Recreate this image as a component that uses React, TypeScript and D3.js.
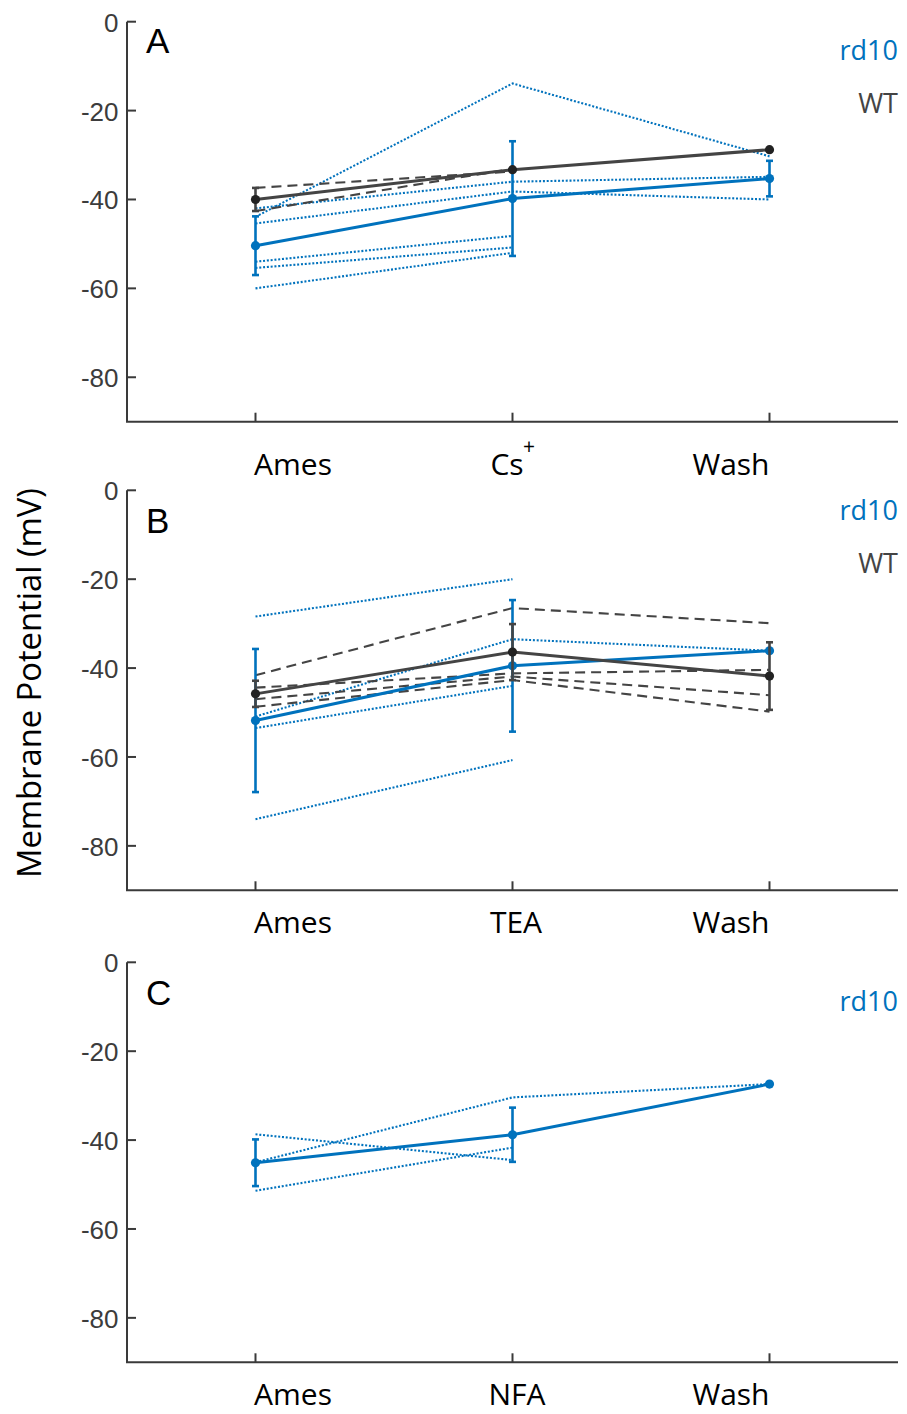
import React from "react";
import * as d3 from "d3";

type V = number | null;

// Shared axis settings
const yTicks = [0, -20, -40, -60, -80];
const yDomain: [number, number] = [-90, 0];

// Panel A: Cs+ block
const categoriesA = ["Ames", "Cs", "Wash"];
const rd10CellsA: V[][] = [
  [-43.9, -13.9, -30.3],
  [-42.0, -36.0, -34.9],
  [-45.4, -38.2, -40.0],
  [-54.0, -48.2, null],
  [-55.4, -50.8, null],
  [-60.0, -52.0, null],
];
const rd10MeanA: V[] = [-50.4, -39.8, -35.3];
const rd10ErrA: V[] = [6.6, 12.9, 4.0];
const wtCellsA: V[][] = [
  [-37.4, -33.7, null],
  [-42.6, -33.1, null],
];
const wtMeanA: V[] = [-40.0, -33.3, -28.8];
const wtErrA: V[] = [2.6, null, null];

// Panel B: TEA block
const categoriesB = ["Ames", "TEA", "Wash"];
const rd10CellsB: V[][] = [
  [-28.4, -20.0, null],
  [-50.9, -33.5, -36.1],
  [-53.5, -44.0, null],
  [-74.0, -60.7, null],
];
const rd10MeanB: V[] = [-51.8, -39.5, -36.1];
const rd10ErrB: V[] = [16.1, 14.8, null];
const wtCellsB: V[][] = [
  [-41.6, -26.5, -29.9],
  [-44.4, -41.2, -40.4],
  [-47.0, -41.9, -46.1],
  [-48.7, -42.7, -49.8],
];
const wtMeanB: V[] = [-45.8, -36.4, -41.8];
const wtErrB: V[] = [2.95, 6.3, 7.6];

// Panel C: NFA block
const categoriesC = ["Ames", "NFA", "Wash"];
const rd10CellsC: V[][] = [
  [-38.7, -44.5, null],
  [-45.0, -30.4, -27.4],
  [-51.4, -41.7, null],
];
const rd10MeanC: V[] = [-45.1, -38.8, -27.4];
const rd10ErrC: V[] = [5.25, 6.1, null];

const BLUE = "#0072BD";
const GRAY = "#444444";
const AXIS = "#3a3a3a";
const LABEL_FONT = "'Open Sans', 'Noto Sans', sans-serif";
const TICK_FONT = "'Liberation Sans', Arial, sans-serif";

const xScale = d3.scaleLinear().domain([0.5, 3.5]).range([127, 898]);

type PanelProps = {
  y0: number;
  letter: string;
  letterY: number;
  categories: string[];
  labelShift: number[];
  labelBaseline: number;
  rd10Cells: V[][];
  rd10Mean: V[];
  rd10Err: V[];
  wtCells?: V[][];
  wtMean?: V[];
  wtErr?: V[];
  rd10Y: number;
  wtY?: number;
};

function ErrorBars({ mean, err, y, color }: { mean: V[]; err: V[]; y: d3.ScaleLinear<number, number>; color: string }) {
  return (
    <g stroke={color} strokeWidth={2.6}>
      {mean.map((m, i) => {
        const e = err[i];
        if (m == null || e == null) return null;
        const cx = xScale(i + 1);
        const top = y(m + e);
        const bot = y(m - e);
        return (
          <g key={i}>
            <line x1={cx} x2={cx} y1={top} y2={bot} />
            <line x1={cx - 3.5} x2={cx + 3.5} y1={top} y2={top} />
            <line x1={cx - 3.5} x2={cx + 3.5} y1={bot} y2={bot} />
          </g>
        );
      })}
    </g>
  );
}

function Panel(p: PanelProps) {
  const y = d3.scaleLinear().domain(yDomain).range([p.y0 + 400, p.y0]);
  const line = d3
    .line<V>()
    .defined((d) => d != null)
    .x((_, i) => xScale(i + 1))
    .y((d) => y(d as number));
  const bottom = y(-90);

  return (
    <g>
      {/* individual rd10 cells */}
      {p.rd10Cells.map((c, i) => (
        <path key={"r" + i} d={line(c) || ""} fill="none" stroke={BLUE} strokeWidth={2.1} strokeDasharray="2 1.8" />
      ))}
      {/* individual WT cells */}
      {p.wtCells &&
        p.wtCells.map((c, i) => (
          <path key={"w" + i} d={line(c) || ""} fill="none" stroke={GRAY} strokeWidth={2.1} strokeDasharray="10 6" />
        ))}
      {/* rd10 mean */}
      <path d={line(p.rd10Mean) || ""} fill="none" stroke={BLUE} strokeWidth={3} />
      <ErrorBars mean={p.rd10Mean} err={p.rd10Err} y={y} color={BLUE} />
      {p.rd10Mean.map((m, i) =>
        m == null ? null : <circle key={"rm" + i} cx={xScale(i + 1)} cy={y(m)} r={4.6} fill={BLUE} />
      )}
      {/* WT mean */}
      {p.wtMean && (
        <>
          <path d={line(p.wtMean) || ""} fill="none" stroke={GRAY} strokeWidth={3} />
          <ErrorBars mean={p.wtMean} err={p.wtErr || []} y={y} color={GRAY} />
          {p.wtMean.map((m, i) =>
            m == null ? null : <circle key={"wm" + i} cx={xScale(i + 1)} cy={y(m)} r={4.6} fill="#222" />
          )}
        </>
      )}

      {/* axes */}
      <g stroke={AXIS} strokeWidth={2}>
        <line x1={127} x2={127} y1={y(0)} y2={bottom} />
        <line x1={126} x2={898} y1={bottom} y2={bottom} />
        {yTicks.map((t) => (
          <line key={t} x1={127} x2={136} y1={y(t)} y2={y(t)} />
        ))}
        {p.categories.map((_, i) => (
          <line key={i} x1={xScale(i + 1)} x2={xScale(i + 1)} y1={bottom} y2={bottom - 9} />
        ))}
      </g>
      {yTicks.map((t) => (
        <text
          key={"t" + t}
          x={118.5}
          y={y(t) + 1}
          textAnchor="end"
          dominantBaseline="central"
          fontFamily={TICK_FONT}
          fontSize={26}
          fill="#3c3c3c"
        >
          {t}
        </text>
      ))}

      {/* category labels */}
      {p.categories.map((c, i) => (
        <g key={"c" + i}>
          <text
            x={xScale(i + 1) + p.labelShift[i]}
            y={p.labelBaseline}
            textAnchor="middle"
            fontFamily={LABEL_FONT}
            fontSize={30}
            fill="#000"
          >
            {c}
          </text>
          {c === "Cs" && (
            <text
              x={xScale(i + 1) + 16.5}
              y={p.labelBaseline - 21}
              textAnchor="middle"
              fontFamily={LABEL_FONT}
              fontSize={21}
              fill="#000"
            >
              +
            </text>
          )}
        </g>
      ))}

      {/* panel letter */}
      <text x={146} y={p.letterY} fontFamily={TICK_FONT} fontSize={35} fill="#000">
        {p.letter}
      </text>

      {/* group labels */}
      <text x={898} y={p.rd10Y} textAnchor="end" fontFamily={LABEL_FONT} fontSize={27} fill={BLUE}>
        rd10
      </text>
      {p.wtY != null && (
        <text x={898} y={p.wtY} textAnchor="end" fontFamily={LABEL_FONT} fontSize={27} fill={GRAY}>
          WT
        </text>
      )}
    </g>
  );
}

export default function App() {
  return (
    <div style={{ position: "absolute", left: 0, top: 0 }}>
      <svg width={907} height={1414} style={{ display: "block", background: "#fff" }}>
        <Panel
          y0={21.7}
          letter="A"
          letterY={53.3}
          categories={categoriesA}
          labelShift={[37.5, -5.5, -38.5]}
          labelBaseline={475}
          rd10Cells={rd10CellsA}
          rd10Mean={rd10MeanA}
          rd10Err={rd10ErrA}
          wtCells={wtCellsA}
          wtMean={wtMeanA}
          wtErr={wtErrA}
          rd10Y={59.5}
          wtY={112.5}
        />
        <Panel
          y0={490.3}
          letter="B"
          letterY={533.3}
          categories={categoriesB}
          labelShift={[37.5, 3.5, -38.5]}
          labelBaseline={933}
          rd10Cells={rd10CellsB}
          rd10Mean={rd10MeanB}
          rd10Err={rd10ErrB}
          wtCells={wtCellsB}
          wtMean={wtMeanB}
          wtErr={wtErrB}
          rd10Y={520}
          wtY={573}
        />
        <Panel
          y0={962.3}
          letter="C"
          letterY={1005}
          categories={categoriesC}
          labelShift={[37.5, 4.5, -38.5]}
          labelBaseline={1405}
          rd10Cells={rd10CellsC}
          rd10Mean={rd10MeanC}
          rd10Err={rd10ErrC}
          rd10Y={1011}
        />
        <text
          transform="translate(41,683) rotate(-90)"
          textAnchor="middle"
          fontFamily={LABEL_FONT}
          fontSize={32}
          textLength={390}
          lengthAdjust="spacingAndGlyphs"
          fill="#000"
        >
          Membrane Potential (mV)
        </text>
      </svg>
    </div>
  );
}
